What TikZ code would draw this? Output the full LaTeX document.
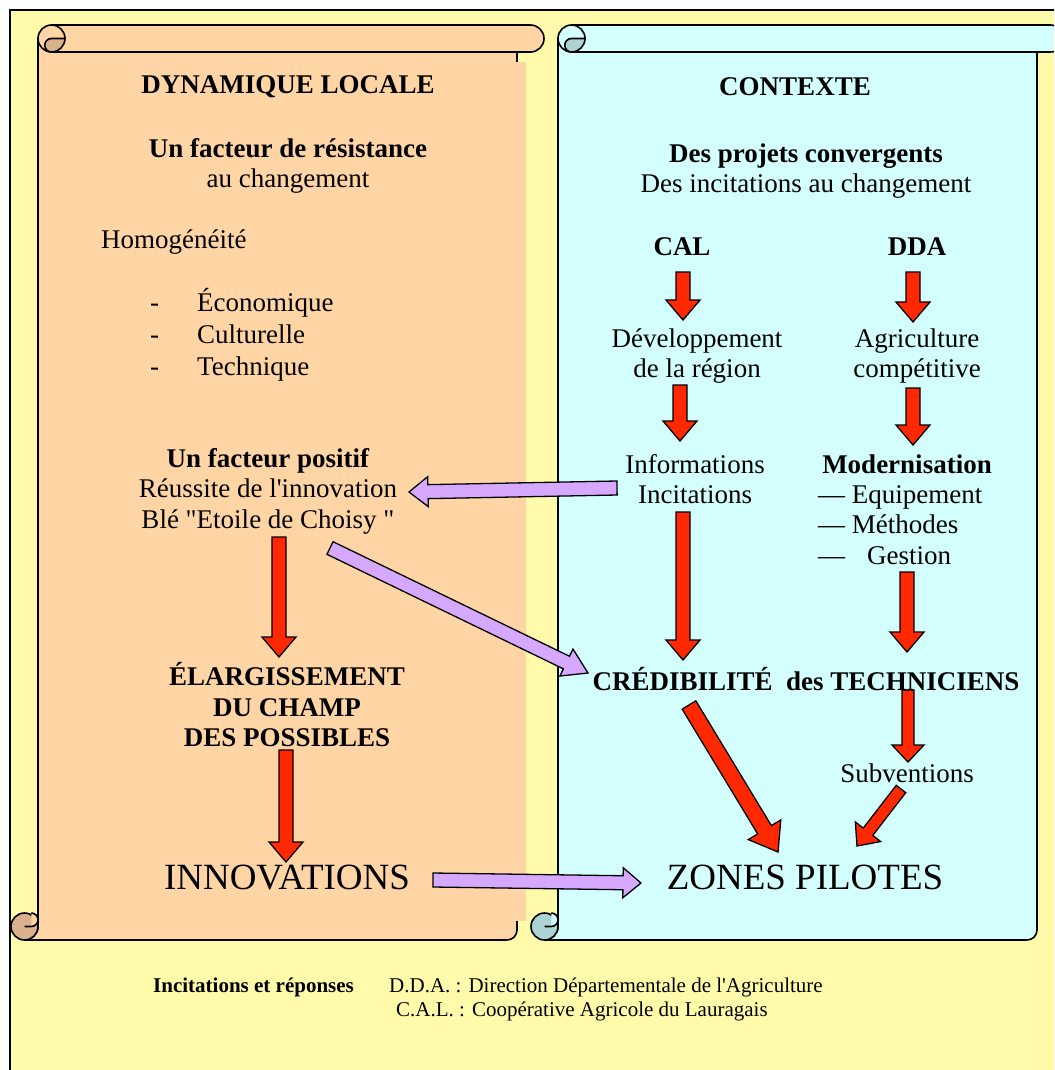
\documentclass[tikz,border=0pt]{standalone}
\usepackage{fontspec}
\setmainfont{Liberation Serif}
\usetikzlibrary{
		calc,
		positioning
	}
\definecolor{bgyellow}{RGB}{255,251,170}
\definecolor{peach}{RGB}{255,213,165}
\definecolor{peachdark}{RGB}{217,177,140}
\definecolor{skyblue}{RGB}{212,255,255}
\definecolor{skydark}{RGB}{172,212,212}
\definecolor{lilac}{RGB}{215,168,255}
\definecolor{arrowred}{RGB}{255,40,0}

% block arrow: style, from, to, shaft half width, head half width, head length
\newcommand{\fatarrow}[6]{%
	\coordinate (fas) at (#2);
	\coordinate (fae) at (#3);
	\coordinate (fah) at ($(fae)!#6!(fas)$);
	\draw[#1] ($(fas)!#4!90:(fae)$) -- ($(fah)!#4!90:(fae)$) -- ($(fah)!#5!90:(fae)$)
		-- (fae) -- ($(fah)!#5!-90:(fae)$) -- ($(fah)!#4!-90:(fae)$) -- ($(fas)!#4!-90:(fae)$) -- cycle;
}

% scroll: left x, right x, fill, curl fill
\newcommand{\scrollshape}[4]{%
	\def\rr{13.5}
	\draw[fill=#3] (#1,38.5) -- (#1,926.5) arc[start angle=0, end angle=90, radius=\rr]
		-- (#2-10,940) arc[start angle=90, end angle=0, radius=10] -- (#2,38.5) -- cycle;
	\draw[fill=#3] (#1+\rr,25) -- (#2+\rr,25) arc[start angle=-90, end angle=90, radius=\rr]
		-- (#1+\rr,52) arc[start angle=90, end angle=270, radius=\rr] -- cycle;
	\filldraw[fill=#4] (#1+27,38.5) arc[start angle=0, end angle=90, radius=\rr]
		arc[start angle=90, end angle=270, radius=6.75] -- cycle;
	\draw (#1+\rr,25) arc[start angle=-90, end angle=0, radius=\rr];
	\filldraw[fill=#4] (#1-\rr,926.5) circle[radius=\rr];
	\fill[#3] (#1-6.75,913) arc[start angle=-90, end angle=90, radius=6.75] -- cycle;
	\draw (#1-6.75,913) arc[start angle=-90, end angle=90, radius=6.75] -- (#1-\rr,926.5);
}

\begin{document}
\begin{tikzpicture}[x=1pt, y=-1pt,
					txt/.style={font=\fontsize{27}{30.5}\selectfont, align=center, inner sep=0pt},
					hd/.style={txt, font=\fontsize{27}{30.5}\selectfont\bfseries},
					big/.style={font=\fontsize{37}{42}\selectfont, inner sep=0pt},
					foot/.style={font=\fontsize{21}{24}\selectfont, inner sep=0pt, anchor=west},
					redarrow/.style={draw, line width=1.3pt, fill=arrowred},
					lilacarrow/.style={draw, line width=1.3pt, fill=lilac}]
		\useasboundingbox (0,0) rectangle (1054,1070);
		\clip (0,0) rectangle (1054,1070);
		\fill[white] (0,0) rectangle (1054,1070);
		\draw[line width=1.3pt, fill=bgyellow] (10,10) rectangle (1080,1090);

		% the two scrolls
		\begin{scope}[line width=1.6pt]
			\scrollshape{38}{517}{peach}{peachdark}
			\fill[peach] (516,62) rectangle (526,921);
			\scrollshape{558}{1037}{skyblue}{skydark}
		\end{scope}

		% local side
		\node[hd] (dyn) at (288,87) {DYNAMIQUE LOCALE};
		\node[txt] (res) at (288,166) {\textbf{Un facteur de résistance}\\au changement};
		\node[txt, anchor=west] (homo) at (101,242) {Homogénéité};
		\node[txt, align=left, anchor=west, font=\fontsize{27}{32}\selectfont] (dims) at (150,335)
			{\makebox[47pt][l]{-}Économique\\\makebox[47pt][l]{-}Culturelle\\\makebox[47pt][l]{-}Technique};
		\node[txt] (pos) at (268,491) {\textbf{Un facteur positif}\\Réussite de l\textquotesingle innovation\\Blé \textquotedbl Etoile de Choisy \textquotedbl};
		\node[hd] (elarg) at (287,705) {ÉLARGISSEMENT\\DU CHAMP\\DES POSSIBLES};
		\node[big] (innov) at (287,878) {INNOVATIONS};

		% context side
		\node[hd] (ctx) at (795,87) {CONTEXTE};
		\node[txt] (proj) at (806,171) {\textbf{Des projets convergents}\\Des incitations au changement};
		\node[hd] (cal) at (682,247) {CAL};
		\node[hd] (dda) at (917,247) {DDA};
		\node[txt] (dev) at (697,356) {Développement\\de la région};
		\node[txt] (agri) at (917,356) {Agriculture\\compétitive};
		\node[txt] (info) at (695,479) {Informations\\Incitations};
		\node[hd] (mod) at (907,464) {Modernisation};
		\node[txt, align=left, anchor=west] (outils) at (818,525) {— Equipement\\— Méthodes\\—\hspace{22pt}Gestion};
		\node[hd] (cred) at (806,679) {CRÉDIBILITÉ\ \ des TECHNICIENS};
		\node[txt] (subv) at (907,773) {Subventions};
		\node[big] (zones) at (805,877) {ZONES PILOTES};

		% legend
		\node[foot, font=\fontsize{21}{24}\selectfont\bfseries] (legend) at (153,987) {Incitations et réponses};
		\node[foot] (ddadef) at (389,987) {D.D.A. : Direction Départementale de l\textquotesingle Agriculture};
		\node[foot] (caldef) at (396,1011) {C.A.L. : Coopérative Agricole du Lauragais};

		% red arrows
		\fatarrow{redarrow}{$(cal)+(1,25)$}{$(dev)+(-14,-36)$}{7pt}{17pt}{20pt}
		\fatarrow{redarrow}{$(dda)+(-4,25)$}{$(agri)+(-4,-34)$}{7pt}{17pt}{20pt}
		\fatarrow{redarrow}{$(dev)+(-17,29)$}{$(info)+(-15,-38)$}{7pt}{17pt}{20pt}
		\fatarrow{redarrow}{$(agri)+(-4,32)$}{$(mod)+(6,-19)$}{7pt}{17pt}{20pt}
		\fatarrow{redarrow}{$(info)+(-12,33)$}{$(cred)+(-123,-19)$}{7pt}{17pt}{20pt}
		\fatarrow{redarrow}{$(outils.west)+(89,47)$}{$(cred)+(101,-27)$}{7pt}{17pt}{20pt}
		\fatarrow{redarrow}{$(pos)+(11,46)$}{$(elarg)+(-8,-48)$}{7pt}{17pt}{20pt}
		\fatarrow{redarrow}{$(elarg)+(-1,45)$}{$(innov)+(-1,-16)$}{7pt}{17pt}{20pt}
		\fatarrow{redarrow}{$(cred)+(-117,26)$}{$(zones)+(-27,-25)$}{8pt}{19pt}{26pt}
		\fatarrow{redarrow}{$(cred)+(102,11)$}{$(subv)+(1,-11)$}{6pt}{16pt}{17pt}
		\fatarrow{redarrow}{$(subv)+(-6,16)$}{$(zones)+(52,-31)$}{6pt}{16pt}{18pt}

		% lilac arrows
		\fatarrow{lilacarrow}{$(info)+(-78,9)$}{$(pos)+(141,1)$}{7pt}{15pt}{19pt}
		\fatarrow{lilacarrow}{$(pos)+(62,57)$}{$(cred)+(-218,-6)$}{7pt}{15pt}{24pt}
		\fatarrow{lilacarrow}{$(innov)+(146,2)$}{$(zones)+(-164,6)$}{7pt}{15pt}{18pt}
	\end{tikzpicture}
\end{document}
